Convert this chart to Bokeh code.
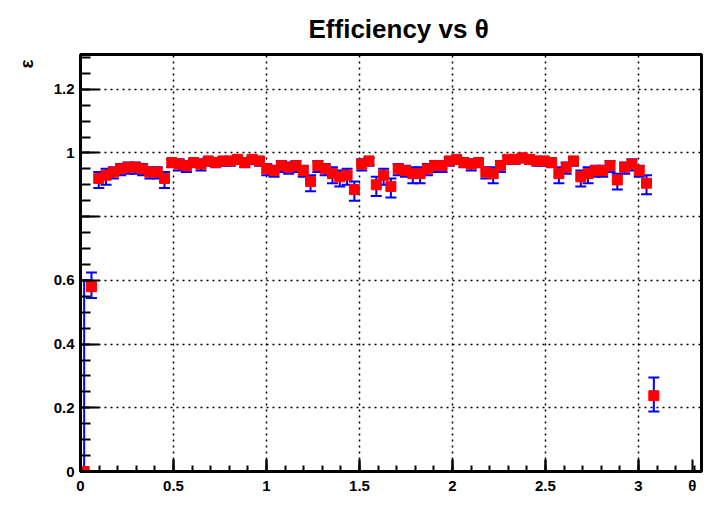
import numpy as np
from bokeh.plotting import figure
from bokeh.models import (FixedTicker, CustomJSTickFormatter, ColumnDataSource, Range1d,
                          Title, LinearAxis)
from bokeh.embed import file_html
from bokeh.resources import INLINE

# ---------------- data ----------------
n_bins = 80
theta_min, theta_max = 0.0, np.pi

# filled bins (1-based bin numbers)
filled_bins = [1, 2] + list(range(3, 79)) + [79]

eff_main = [0.92, 0.93, 0.94, 0.95, 0.955, 0.955, 0.95, 0.94, 0.94, 0.92,
            0.97, 0.965, 0.96, 0.97, 0.965, 0.975, 0.97, 0.975, 0.975, 0.98,
            0.97, 0.98, 0.975, 0.95, 0.945, 0.96, 0.955, 0.96, 0.945, 0.91,
            0.96, 0.95, 0.935, 0.925, 0.93, 0.885, 0.965, 0.975, 0.90, 0.93,
            0.895, 0.95, 0.945, 0.935, 0.935, 0.95, 0.96, 0.96, 0.975, 0.98,
            0.97, 0.965, 0.97, 0.94, 0.935, 0.96, 0.98, 0.98, 0.985, 0.98,
            0.975, 0.975, 0.97, 0.935, 0.955, 0.975, 0.925, 0.935, 0.945, 0.945,
            0.96, 0.915, 0.955, 0.965, 0.945, 0.905]
err_lo_main = [0.03, 0.03, 0.02, 0.02, 0.02, 0.02, 0.02, 0.02, 0.02, 0.03,
               0.015, 0.02, 0.02, 0.015, 0.02, 0.015, 0.015, 0.015, 0.015, 0.015,
               0.015, 0.015, 0.015, 0.02, 0.02, 0.02, 0.02, 0.02, 0.02, 0.03,
               0.02, 0.02, 0.03, 0.03, 0.03, 0.035, 0.02, 0.015, 0.035, 0.03,
               0.035, 0.02, 0.02, 0.03, 0.03, 0.02, 0.02, 0.02, 0.015, 0.015,
               0.015, 0.02, 0.015, 0.02, 0.03, 0.02, 0.015, 0.015, 0.015, 0.015,
               0.015, 0.015, 0.015, 0.03, 0.02, 0.015, 0.03, 0.03, 0.02, 0.02,
               0.02, 0.03, 0.02, 0.02, 0.02, 0.035]
err_hi_main = [0.02, 0.02, 0.015, 0.015, 0.015, 0.015, 0.015, 0.015, 0.015, 0.02,
               0.01, 0.015, 0.015, 0.01, 0.015, 0.01, 0.01, 0.01, 0.01, 0.01,
               0.01, 0.01, 0.01, 0.015, 0.015, 0.015, 0.015, 0.015, 0.015, 0.02,
               0.015, 0.015, 0.02, 0.02, 0.02, 0.025, 0.015, 0.01, 0.025, 0.02,
               0.025, 0.015, 0.015, 0.02, 0.02, 0.015, 0.015, 0.015, 0.01, 0.01,
               0.01, 0.015, 0.01, 0.015, 0.02, 0.015, 0.01, 0.01, 0.01, 0.01,
               0.01, 0.01, 0.01, 0.02, 0.015, 0.01, 0.02, 0.02, 0.015, 0.015,
               0.015, 0.02, 0.015, 0.015, 0.015, 0.025]

eff = [0.0, 0.58] + eff_main + [0.238]
err_lo = [0.0, 0.035] + err_lo_main + [0.05]
err_hi = [0.60, 0.045] + err_hi_main + [0.057]

x_ticks = [0, 0.5, 1, 1.5, 2, 2.5, 3]
y_ticks = [0, 0.2, 0.4, 0.6, 0.8, 1.0, 1.2]
y_hidden_label = 0.8

title_text = "Efficiency vs \u03b8"
x_title = "\u03b8"
y_title = "\u03b5"
x_title_pos = 3.29

# ---------------- derived ----------------
edges = np.linspace(theta_min, theta_max, n_bins + 1)
idx = np.array(filled_bins) - 1
x_lo = edges[idx]
x_hi = edges[idx + 1]
xc = 0.5 * (x_lo + x_hi)
y = np.array(eff)
lo = y - np.array(err_lo)
hi = y + np.array(err_hi)

src = ColumnDataSource(dict(x=xc, x0=x_lo, x1=x_hi, y=y, lo=lo, hi=hi))

FONT = "Liberation Sans"

p = figure(width=703, height=507, output_backend="svg", toolbar_location=None,
           x_range=Range1d(0, 3.339), y_range=Range1d(0, 1.309),
           min_border_left=80, min_border_right=2, min_border_top=54,
           min_border_bottom=36, title=title_text)
p.background_fill_color = "white"
p.border_fill_color = "white"
p.outline_line_color = "black"
p.outline_line_width = 3
p.outline_line_alpha = 1.0

p.title.align = "left"
p.title.offset = 228
p.title.text_font = FONT
p.title.text_font_style = "bold"
p.title.text_font_size = "26px"
p.title.text_color = "black"
p.title.standoff = 21

p.add_layout(Title(text=y_title, align="right", text_font=FONT, text_font_style="bold",
                   text_font_size="19px", text_color="black", standoff=27, offset=5), "left")

# main x axis: tick marks only
p.xaxis.ticker = FixedTicker(ticks=x_ticks, minor_ticks=[round(0.1 * i, 2) for i in range(34)])
p.xaxis.formatter = CustomJSTickFormatter(code="return '';")
p.xaxis.major_label_text_font_size = "1px"
p.xaxis.major_label_standoff = 0

# label axis: tick labels plus the axis title at the right end
lab_ticks = x_ticks + [x_title_pos]
lab_axis = LinearAxis(
    ticker=FixedTicker(ticks=lab_ticks),
    formatter=CustomJSTickFormatter(
        code="return Math.abs(tick - %f) < 1e-6 ? '%s' : parseFloat(tick.toFixed(2)).toString();"
             % (x_title_pos, x_title)),
    axis_line_color=None, major_tick_line_color=None, minor_tick_line_color=None,
    major_tick_in=0, major_tick_out=0, minor_tick_in=0, minor_tick_out=0,
    major_label_text_font=FONT, major_label_text_font_size="15px",
    major_label_text_font_style="bold",
    major_label_text_color="black", major_label_standoff=5)
p.add_layout(lab_axis, "below")

p.yaxis.ticker = FixedTicker(ticks=y_ticks, minor_ticks=[round(0.05 * i, 3) for i in range(27)])
p.yaxis.formatter = CustomJSTickFormatter(
    code="return Math.abs(tick - %f) < 1e-6 ? '' : parseFloat(tick.toFixed(2)).toString();" % y_hidden_label)
p.yaxis.major_label_text_font = FONT
p.yaxis.major_label_text_font_size = "15px"
p.yaxis.major_label_text_font_style = "bold"
p.yaxis.major_label_text_color = "black"
p.yaxis.major_label_standoff = 6

for ax, tin, mtin in ((p.xaxis, 12, 6), (p.yaxis, 19, 10)):
    ax.axis_line_color = "black"
    ax.axis_line_width = 3
    ax.major_tick_in = tin
    ax.major_tick_out = 0
    ax.minor_tick_in = mtin
    ax.minor_tick_out = 0
    ax.major_tick_line_width = 2
    ax.minor_tick_line_width = 2
    ax.major_tick_line_color = "black"
    ax.minor_tick_line_color = "black"

for g in (p.xgrid, p.ygrid):
    g.grid_line_color = "black"
    g.grid_line_dash = "2 4"
    g.grid_line_width = 1.5

# error bars
p.segment(x0="x0", x1="x1", y0="y", y1="y", source=src, line_color="blue", line_width=2)
p.segment(x0="x", x1="x", y0="lo", y1="hi", source=src, line_color="blue", line_width=2)
p.scatter(x="x", y="lo", source=src, marker="dash", size=11, line_color="blue", line_width=2)
p.scatter(x="x", y="hi", source=src, marker="dash", size=11, line_color="blue", line_width=2)
# markers
p.scatter(x="x", y="y", source=src, marker="square", size=10, fill_color="red", line_color="red")

open("out.html", "w").write(file_html(p, INLINE))
